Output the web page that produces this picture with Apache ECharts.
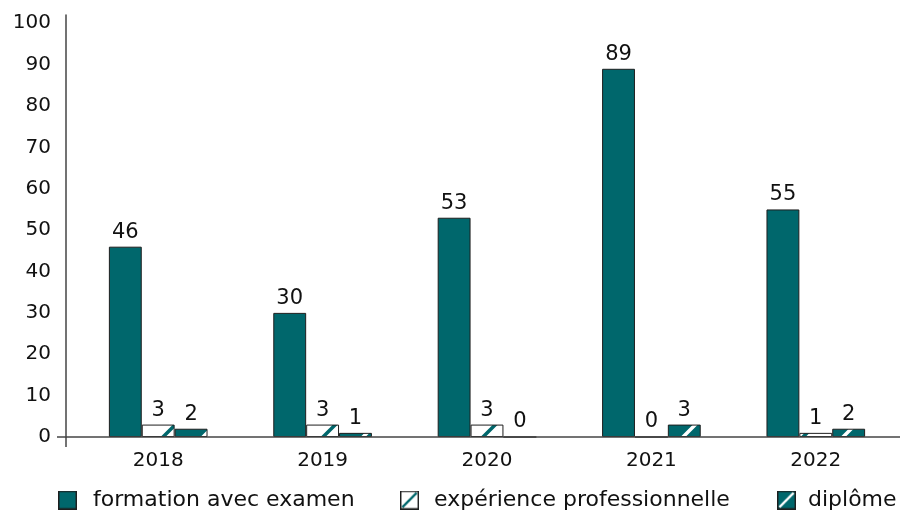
<!DOCTYPE html>
<html>
<head>
<meta charset="utf-8">
<script src="https://cdn.jsdelivr.net/npm/echarts@6/dist/echarts.min.js"></script>
<style>
  html, body { margin: 0; padding: 0; background: #fff; }
  #chart { width: 904px; height: 513px; }
</style>
</head>
<body>
<div id="chart"></div>
<script>
// Years on the x axis
const years = ['2018', '2019', '2020', '2021', '2022'];
// Series names
const seriesNames = ['formation avec examen', 'expérience professionnelle', 'diplôme'];
// Values per year
const formation = [46, 30, 53, 89, 55];
const experience = [3, 3, 3, 0, 1];
const diplome = [2, 1, 0, 3, 2];
// Y axis range and step
const yMin = 0, yMax = 102, yStep = 10;

const TEAL = '#00676C';
const EDGE = '#1e1e1e';
const AXIS = '#444';
const FONT = 'DejaVu Sans';
const W = 904, H = 513;
const GRID = { left: 76, right: 6, top: 15, bottom: 76 };
const Y_OFFSET = 10;

// Diagonal hatch tile used as a repeating fill
function hatchTile(bg, fg, size, lw) {
  const c = document.createElement('canvas');
  c.width = size; c.height = size;
  const g = c.getContext('2d');
  g.fillStyle = bg; g.fillRect(0, 0, size, size);
  g.strokeStyle = fg; g.lineWidth = lw;
  g.beginPath();
  g.moveTo(-2, size + 2); g.lineTo(size + 2, -2);
  g.moveTo(-size - 2, size + 2); g.lineTo(2, -2);
  g.moveTo(size - 2, size + 2); g.lineTo(2 * size + 2, -2);
  g.stroke();
  return c;
}

// Legend icon: square with a single diagonal stroke and dark border
function legendIcon(bg, fg, diag) {
  const s = 40;
  const c = document.createElement('canvas');
  c.width = s; c.height = s;
  const g = c.getContext('2d');
  g.fillStyle = bg; g.fillRect(0, 0, s, s);
  if (diag) {
    g.strokeStyle = fg; g.lineWidth = 5;
    g.beginPath(); g.moveTo(5, s - 5); g.lineTo(s - 5, 5); g.stroke();
  }
  g.strokeStyle = EDGE; g.lineWidth = 3;
  g.strokeRect(1.5, 1.5, s - 3, s - 3);
  return 'image://' + c.toDataURL();
}

const expFill = { image: hatchTile('#ffffff', TEAL, 40, 3.5), repeat: 'repeat' };
const dipFill = { image: hatchTile(TEAL, '#ffffff', 40, 3.5), repeat: 'repeat' };

const labelStyle = {
  show: true, position: 'top', distance: 4,
  color: '#111', fontSize: 21, fontFamily: FONT
};

function bar(name, data, fill) {
  return {
    name: name, type: 'bar', data: data,
    barGap: '0%', barCategoryGap: '40%',
    itemStyle: { color: fill, borderColor: EDGE, borderWidth: 1 },
    label: labelStyle,
    emphasis: { disabled: true }
  };
}

function legendAt(left, textGap, name, icon) {
  return {
    top: 489, left: left, padding: 0,
    itemWidth: 19, itemHeight: 19,
    selectedMode: false,
    textStyle: { fontSize: 22, fontFamily: FONT, color: '#111', padding: [0, 0, 0, textGap] },
    data: [{ name: name, icon: icon }]
  };
}

const chart = echarts.init(document.getElementById('chart'), null, { renderer: 'canvas' });
chart.setOption({
  animation: false,
  grid: Object.assign({ containLabel: false }, GRID),
  legend: [
    legendAt(58, 11, seriesNames[0], legendIcon(TEAL, TEAL, false)),
    legendAt(400, 10, seriesNames[1], legendIcon('#ffffff', TEAL, true)),
    legendAt(777, 7, seriesNames[2], legendIcon(TEAL, '#ffffff', true))
  ],
  xAxis: {
    type: 'category', data: years,
    axisLine: { show: false },
    axisTick: { show: false },
    axisLabel: { color: '#111', fontSize: 20, fontFamily: FONT, margin: 14 }
  },
  yAxis: {
    type: 'value', min: yMin, max: yMax, interval: yStep,
    offset: Y_OFFSET,
    axisLine: { show: true, lineStyle: { color: AXIS, width: 1.5 } },
    axisTick: { show: false },
    splitLine: { show: false },
    axisLabel: {
      color: '#111', fontSize: 20, fontFamily: FONT, margin: 15,
      formatter: v => (v % yStep === 0 ? String(v) : '')
    }
  },
  series: [
    bar(seriesNames[0], formation, TEAL),
    bar(seriesNames[1], experience, expFill),
    bar(seriesNames[2], diplome, dipFill)
  ]
});

// Baseline spanning past both ends, and the y axis stub below it
const y0 = chart.convertToPixel({ yAxisIndex: 0 }, 0);
const axisX = GRID.left - Y_OFFSET;
chart.setOption({
  graphic: [
    {
      type: 'line', silent: true, z: 10,
      shape: { x1: axisX - 9, y1: y0, x2: W - 4, y2: y0 },
      style: { stroke: AXIS, lineWidth: 1.5 }
    },
    {
      type: 'line', silent: true, z: 10,
      shape: { x1: axisX, y1: y0, x2: axisX, y2: y0 + 10 },
      style: { stroke: AXIS, lineWidth: 1.5 }
    }
  ]
});
</script>
</body>
</html>
